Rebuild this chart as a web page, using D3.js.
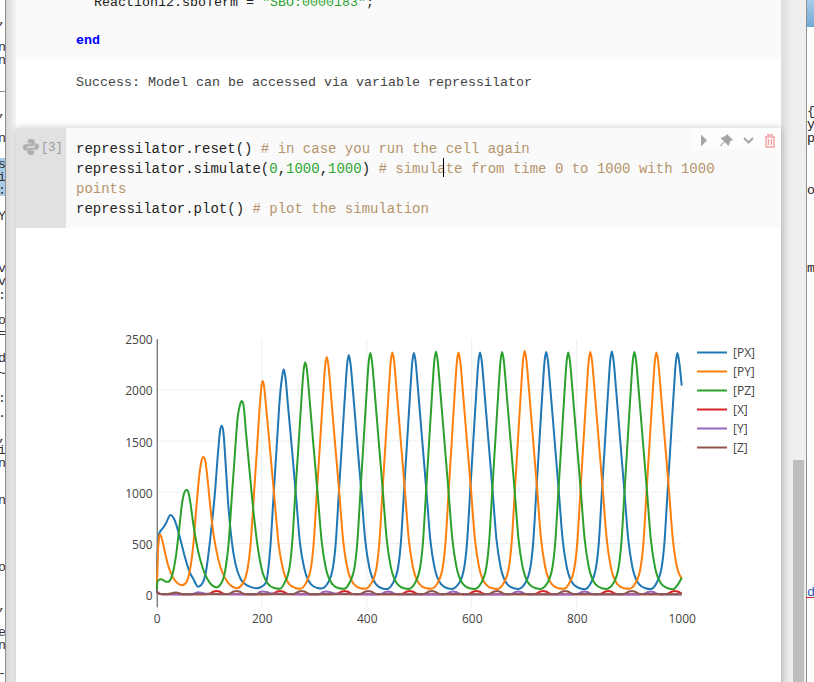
<!DOCTYPE html>
<html>
<head>
<meta charset="utf-8">
<script src="https://cdnjs.cloudflare.com/ajax/libs/d3/7.8.5/d3.min.js"></script>
<style>
  html, body { margin: 0; padding: 0; background: #fff; overflow: hidden; }
  svg { display: block; }
  .code { font-family: "Liberation Mono", monospace; font-size: 13.33px; }
  .code.big { font-size: 14px; }
  .axis text, .legend text { font-family: "Open Sans", sans-serif; font-size: 12px; fill: #444; }
</style>
</head>
<body>
<div id="page"></div>
<script>
// values
const pxTime = [0,1,3,5,12,18,26,33,42,52,62,70,79,
  89,95,101,111,117,121,124,127,131,136,143,150,160,172,190,
  198,208,213,217,223,229,235,239,242,245,250,258,266,273,281,294,306,314,
  326,336,341,347,353,359,363,366,369,374,382,390,397,405,418,430,438,
  450,460,465,471,477,483,487,490,493,498,506,514,521,529,542,554,562,
  576,586,591,597,603,609,613,616,619,624,632,640,647,655,668,680,689,
  702,712,717,723,729,735,739,742,745,750,758,766,773,781,794,806,815,
  827,837,842,848,854,860,864,867,870,875,883,891,898,906,919,931,941,
  952,962,967,973,979,985,989,992,995,1000];
const pxValues = [20,300,520,600,650,700,778,740,600,400,230,150,77,
  130,260,500,1000,1400,1610,1650,1590,1300,900,520,300,150,90,63,
  72,115,270,500,1000,1480,1950,2130,2200,2130,1850,1400,920,500,260,100,65,60,
  113,272,500,1000,1490,1980,2260,2340,2260,1980,1480,990,540,265,100,60,54,
  113,272,500,1000,1495,1990,2280,2360,2280,1990,1490,995,545,268,100,62,56,
  113,272,500,1000,1495,1995,2285,2365,2285,1995,1495,1000,548,270,100,62,55,
  113,272,500,1000,1500,2000,2290,2370,2290,2000,1500,1000,550,270,100,62,52,
  113,272,500,1000,1500,2000,2295,2375,2295,2005,1500,1000,550,270,100,62,54,
  113,272,500,1000,1495,1990,2280,2360,2280,2040];

const pyTime = [0,1,3,6,9,13,18,24,32,40,47,54,60,65,70,76,82,86,89,92,96,102,108,114,122,132,142,153,
  163,173,179,185,191,197,200,202,204,209,217,225,232,240,252,264,273,
  284,294,299,305,311,317,321,324,327,332,340,348,355,363,376,388,397,
  409,419,424,430,436,442,446,449,452,457,465,473,480,488,501,513,523,
  535,545,550,556,562,568,572,575,578,583,591,599,606,614,627,639,649,
  661,671,676,682,688,694,698,701,704,709,717,725,732,740,753,765,775,
  786,796,801,807,813,819,823,826,829,834,842,850,857,865,878,890,900,
  912,922,927,933,939,945,949,952,955,960,968,976,983,991,1000];
const pyValues = [30,200,480,590,560,480,360,250,160,110,92,105,165,290,500,880,1200,1320,1345,1320,1170,860,600,420,260,145,85,63,
  100,250,500,960,1420,1890,2050,2085,2050,1800,1350,900,500,260,105,65,57,
  110,268,500,990,1470,1950,2240,2320,2240,1950,1460,980,535,262,100,62,57,
  113,272,500,1000,1495,1995,2285,2365,2285,1995,1495,1000,548,270,100,62,57,
  113,272,500,1000,1495,1995,2285,2365,2285,1995,1495,1000,548,270,100,62,56,
  113,272,500,1000,1500,2005,2298,2378,2298,2008,1505,1005,550,270,100,62,57,
  113,272,500,1000,1500,2000,2290,2370,2290,2000,1500,1000,550,270,100,62,57,
  113,272,500,1000,1495,1995,2285,2365,2285,1995,1495,1000,548,270,160];

const pzTime = [0,1,3,8,13,18,22,27,32,37,43,48,53,57,60,64,70,77,84,92,100,107,114,
  123,131,137,143,149,154,159,162,165,170,177,185,192,200,212,224,235,
  243,253,258,264,270,276,280,283,286,291,299,307,314,322,335,347,357,
  367,377,382,388,394,400,404,407,410,415,423,431,438,446,459,471,480,
  492,502,507,513,519,525,529,532,535,540,548,556,563,571,584,596,606,
  618,628,633,639,645,651,655,658,661,666,674,682,689,697,710,722,731,
  744,754,759,765,771,777,781,784,787,792,800,808,815,823,836,848,857,
  870,880,885,891,897,903,907,910,913,918,926,934,941,949,962,974,983,
  993,1000];
const pzValues = [30,110,140,150,140,125,125,155,240,390,650,880,1000,1025,1005,900,680,470,320,200,125,85,70,
  110,250,500,950,1380,1720,1860,1890,1860,1590,1200,780,480,250,105,65,57,
  110,265,500,990,1450,1930,2200,2270,2200,1920,1430,960,530,262,100,62,57,
  113,272,500,1000,1490,1990,2280,2360,2280,1990,1490,995,545,268,100,62,56,
  113,272,500,1000,1500,2000,2292,2372,2292,2000,1500,1000,550,270,100,62,55,
  113,272,500,1000,1500,2000,2288,2368,2288,2000,1500,1000,550,270,100,62,55,
  113,272,500,1000,1495,1995,2285,2365,2285,1995,1495,1000,548,270,100,62,55,
  113,272,500,1000,1500,2000,2290,2370,2290,2000,1500,1000,550,270,100,62,52,
  100,165];

const xTime = [0,3,8,40,92,102,109,114,119,126,136,213,223,230,235,240,247,257,336,346,353,358,363,370,380,
  460,470,477,482,487,494,504,587,597,604,609,614,621,631,714,724,731,736,741,748,758,838,848,855,860,865,872,882,965,975,982,987,992,1000];
const xValues = [35,15,5,3,3,12,30,36,30,12,3,3,12,30,36,30,12,3,3,12,30,36,30,12,3,
  3,12,30,36,30,12,3,3,12,30,36,30,12,3,3,12,30,36,30,12,3,3,12,30,36,30,12,3,3,12,30,36,30,10];
const yTime = [0,4,10,55,65,70,75,80,85,95,175,185,192,197,202,209,219,295,305,312,317,322,329,339,419,429,436,441,446,453,463,
  543,553,560,565,570,577,587,667,677,684,689,694,701,711,793,803,810,815,820,827,837,919,929,936,941,946,953,963,1000];
const yValues = [40,12,3,1,1,8,18,22,18,8,1,1,10,26,30,26,10,1,1,10,26,30,26,10,1,10,26,30,26,10,1,
  1,10,26,30,26,10,1,1,10,26,30,26,10,1,1,10,26,30,26,10,1,1,10,26,30,26,10,1,1];
const zTime = [0,4,10,20,26,31,36,41,50,130,140,147,152,157,164,174,254,264,271,276,281,288,298,381,391,398,403,408,415,425,
  502,512,519,524,529,536,546,626,636,643,648,653,660,670,756,766,773,778,783,790,800,883,893,900,905,910,917,927,1000];
const zValues = [30,10,4,4,10,16,20,16,4,3,12,30,36,30,12,3,3,12,30,36,30,12,3,3,12,30,36,30,12,3,
  3,12,30,36,30,12,3,3,12,30,36,30,12,3,3,12,30,36,30,12,3,3,12,30,36,30,12,3,3];

const seriesNames = ["[PX]", "[PY]", "[PZ]", "[X]", "[Y]", "[Z]"];
const seriesColors = ["#1f77b4", "#ff7f0e", "#2ca02c", "#d62728", "#9467bd", "#8c564b"];
const seriesTimes = [pxTime, pyTime, pzTime, xTime, yTime, zTime];
const seriesValues = [pxValues, pyValues, pzValues, xValues, yValues, zValues];
const xTicks = [0, 200, 400, 600, 800, 1000];
const yTicks = [0, 500, 1000, 1500, 2000, 2500];

const svg = d3.select("#page").append("svg")
  .attr("width", 814)
  .attr("height", 682);

const defs = svg.append("defs");
const shadow = defs.append("filter").attr("id", "cellShadow")
  .attr("x", "-5%").attr("y", "-5%").attr("width", "110%").attr("height", "110%");
shadow.append("feDropShadow")
  .attr("dx", 0).attr("dy", 0).attr("stdDeviation", 3.5)
  .attr("flood-color", "#000").attr("flood-opacity", 0.22);
const leftShade = defs.append("linearGradient").attr("id", "leftShade");
leftShade.append("stop").attr("offset", "0%").attr("stop-color", "#d2d2d2");
leftShade.append("stop").attr("offset", "100%").attr("stop-color", "#f6f6f6");
const rightShade = defs.append("linearGradient").attr("id", "rightShade");
rightShade.append("stop").attr("offset", "0%").attr("stop-color", "#dcdcdc");
rightShade.append("stop").attr("offset", "100%").attr("stop-color", "#eeeeee");
const blueBox = defs.append("linearGradient").attr("id", "blueBox").attr("x2", 0).attr("y2", 1);
blueBox.append("stop").attr("offset", "0%").attr("stop-color", "#a9cdea");
blueBox.append("stop").attr("offset", "100%").attr("stop-color", "#6ea9d6");
defs.append("clipPath").attr("id", "leftClip").append("rect")
  .attr("x", 0).attr("y", 0).attr("width", 5).attr("height", 682);
defs.append("clipPath").attr("id", "rightClip").append("rect")
  .attr("x", 807).attr("y", 0).attr("width", 7).attr("height", 682);
defs.append("clipPath").attr("id", "plotClip").append("rect")
  .attr("x", 156).attr("y", 336).attr("width", 527).attr("height", 272);

// notebook surroundings
function box(x, y, w, h, fill) {
  return svg.append("rect").attr("x", x).attr("y", y).attr("width", w).attr("height", h).attr("fill", fill);
}
box(5, 0, 11, 682, "url(#leftShade)");
box(781, 0, 10, 682, "url(#rightShade)");
box(791, 0, 15, 682, "#efefef");
box(793, 460, 11, 222, "#bdbdbd");
box(16, 0, 765, 682, "#fff");
box(16, 0, 765, 59, "#fafafa");
box(0, 158, 5, 38, "#a8cbe8");
box(5, 0, 1, 682, "#8f8f8f");
box(806, 0, 1, 682, "#8f8f8f");
box(807, 0, 7, 27, "url(#blueBox)");

// selected cell
box(16, 128, 765, 560, "#fff").attr("filter", "url(#cellShadow)");
box(16, 128, 50, 100, "#e1e0e3");
box(66, 128, 715, 100, "#fafafa");
box(693, 128, 88, 22, "#fdfdfd");

// text fragments of the panels at both sides
const leftBits = [["s,",24],["n",51],["n",64],["_",90],[",",116],["n",142],["es",168],["ii",181],[".:",194],["Y",220],
  ["v",272],["v",285],[":",299],["o",324],["=",337],["d",362],["~",377],[":",402],[".",417],["s,",441],["si",454],["n",467],
  ["n",504],["o",571],["s,",610],["e",636],["n",649],["-",677]];
svg.append("g").attr("clip-path", "url(#leftClip)").selectAll("text").data(leftBits).join("text")
  .attr("class", "code").attr("x", 6).attr("y", d => d[1]).attr("text-anchor", "end").attr("fill", "#333")
  .text(d => d[0]);
const rightBits = [["{",115],["y",128],["p",142],["o",194],["m",272],["d",596]];
svg.append("g").attr("clip-path", "url(#rightClip)").selectAll("text").data(rightBits).join("text")
  .attr("class", "code").attr("x", 807).attr("y", d => d[1])
  .attr("fill", d => d[0] === "d" ? "#1a5fb4" : "#222")
  .text(d => d[0]);
box(806, 597, 8, 1, "#d62728");

// code lines, each a list of [text, colour]
const black = "#222", comment = "#b5946c", green = "#2aa62f";
const codeLines = [
  ["code", 94, 6, [["Reaction12.sboTerm = ", black], ["\"SBO:0000183\"", green], [";", black]]],
  ["code", 76, 44, [["end", "#0000ff", "bold"]]],
  ["code", 76, 86, [["Success: Model can be accessed via variable repressilator", "#444"]]],
  ["code big", 76, 153, [["repressilator.reset() ", black], ["# in case you run the cell again", comment]]],
  ["code big", 76, 173, [["repressilator.simulate(", black], ["0", green], [",", black], ["1000", green], [",", black], ["1000", green], [") ", black], ["# simulate from time 0 to 1000 with 1000", comment]]],
  ["code big", 76, 193, [["points", comment]]],
  ["code big", 76, 213, [["repressilator.plot() ", black], ["# plot the simulation", comment]]]
];
codeLines.forEach(line => {
  const t = svg.append("text").attr("class", line[0]).attr("x", line[1]).attr("y", line[2])
    .attr("xml:space", "preserve").style("white-space", "pre");
  line[3].forEach(part => {
    t.append("tspan").attr("fill", part[1]).attr("font-weight", part[2] || "normal").text(part[0]);
  });
});
box(443, 158, 1, 19, "#000");

// prompt and cell toolbar
const logo = svg.append("g").attr("transform", "translate(23,139)").attr("fill", "#b0b0b0");
logo.append("path").attr("d", "M8 0C4.5 0 4.7 1.5 4.7 3V4.6H8.2V5.3H2.6C1 5.3 0 6.4 0 8.3C0 10.2 1 11.4 2.5 11.4H4V9.4C4 8 5 7.2 6.3 7.2H9.8C11 7.2 11.8 6.3 11.8 5.1V3C11.8 1.2 10.4 0 8 0Z");
logo.append("path").attr("d", "M8 16C11.5 16 11.3 14.5 11.3 13V11.4H7.8V10.7H13.4C15 10.7 16 9.6 16 7.7C16 5.8 15 4.6 13.5 4.6H12V6.6C12 8 11 8.8 9.7 8.8H6.2C5 8.8 4.2 9.7 4.2 10.9V13C4.2 14.8 5.6 16 8 16Z");
svg.append("text").attr("class", "code").attr("x", 41).attr("y", 151).attr("fill", "#999").style("font-size", "12px").text("[3]");
svg.append("path").attr("d", "M701 134.5L707 140.5L701 146.5Z").attr("fill", "#a6a6a6");
svg.append("path").attr("d", "M727 134L733 140L730.5 141L728.5 146L724.5 142L721 146.5L720 145.5L724 141.5L720.5 138L725.5 136Z").attr("fill", "#a6a6a6");
svg.append("path").attr("d", "M744 138L748.5 142.5L753 138").attr("fill", "none").attr("stroke", "#a6a6a6").attr("stroke-width", 2);
svg.append("path").attr("d", "M765 137H775M767 135H773M766 137.5V147H774V137.5M768.5 139V145M771.5 139V145")
  .attr("fill", "none").attr("stroke", "#f2a0a0").attr("stroke-width", 1.4);

// chart
const xScale = d3.scaleLinear().domain([0, 1000]).range([156.7, 681.7]);
const yScale = d3.scaleLinear().domain([-120, 2500]).range([606.9, 338.6]);

const chartGroup = svg.append("g");

chartGroup.append("g").selectAll("line").data(yTicks.filter(d => d > 0 && d < 2500)).join("line")
  .attr("x1", xScale(0)).attr("x2", xScale(1000))
  .attr("y1", d => yScale(d)).attr("y2", d => yScale(d))
  .attr("stroke", "#eee");
chartGroup.append("g").selectAll("line").data(xTicks.filter(d => d > 0 && d < 1000)).join("line")
  .attr("x1", d => xScale(d)).attr("x2", d => xScale(d))
  .attr("y1", yScale(-120)).attr("y2", yScale(2500))
  .attr("stroke", "#eee");

const bottomAxis = d3.axisBottom(xScale).tickValues(xTicks).tickSize(0).tickPadding(8).tickFormat(d3.format("d"));
const leftAxis = d3.axisLeft(yScale).tickValues(yTicks).tickSize(0).tickPadding(4).tickFormat(d3.format("d"));

const xAxisGroup = chartGroup.append("g").attr("class", "axis")
  .attr("transform", `translate(0, ${yScale(-120)})`).call(bottomAxis);
xAxisGroup.select(".domain").remove();
const yAxisGroup = chartGroup.append("g").attr("class", "axis")
  .attr("transform", `translate(${xScale(0)}, 0)`).call(leftAxis);
yAxisGroup.select(".domain").attr("stroke", "#444");
yAxisGroup.selectAll("text").attr("dy", "0.42em");

const line = d3.line()
  .x(d => xScale(d.t))
  .y(d => yScale(d.v))
  .curve(d3.curveMonotoneX);

seriesNames.forEach((name, i) => {
  const points = seriesTimes[i].map((t, k) => ({ t: t, v: seriesValues[i][k] }));
  chartGroup.append("path")
    .datum(points)
    .attr("clip-path", "url(#plotClip)")
    .attr("fill", "none")
    .attr("stroke", seriesColors[i])
    .attr("stroke-width", 2)
    .attr("d", line);
});

// legend
const legend = chartGroup.append("g").attr("class", "legend");
seriesNames.forEach((name, i) => {
  const y = 352.5 + i * 19;
  legend.append("line").attr("x1", 697).attr("x2", 727).attr("y1", y).attr("y2", y)
    .attr("stroke", seriesColors[i]).attr("stroke-width", 2);
  legend.append("text").attr("x", 733).attr("y", y + 4.5).text(name);
});
</script>
</body>
</html>
